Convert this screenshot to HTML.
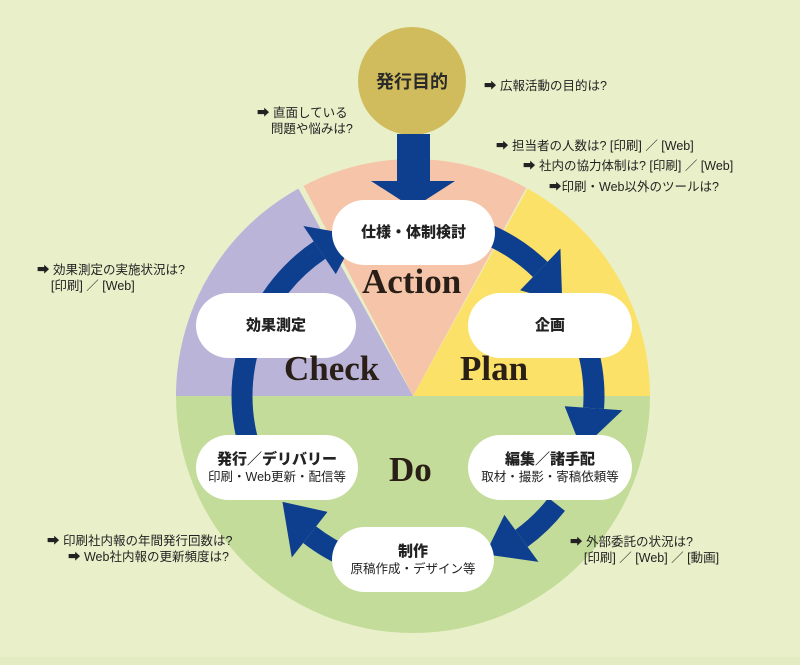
<!DOCTYPE html>
<html><head><meta charset="utf-8"><style>
html,body{margin:0;padding:0;}
body{width:800px;height:665px;background:#e9f0c9;position:relative;overflow:hidden;font-family:"Liberation Sans","Noto Sans CJK JP",sans-serif;color:#222;}
.t{position:absolute;font-size:12.5px;white-space:nowrap;line-height:16px;}
.pill{position:absolute;background:#fff;border-radius:33px;text-align:center;font-weight:bold;display:flex;flex-direction:column;justify-content:center;align-items:center;color:#222;}
.pill b{font-size:15px;line-height:19px;}
.pill span{font-size:12.5px;font-weight:normal;line-height:17px;}
.big{position:absolute;font-family:"Liberation Serif",serif;font-weight:bold;font-size:35px;color:#2a1f17;}
</style></head><body>
<svg width="800" height="665" style="position:absolute;left:0;top:0">
<rect x="0" y="657" width="800" height="8" fill="#e3ebc2"/>
<clipPath id="c"><circle cx="413" cy="396" r="237"/></clipPath>
<g clip-path="url(#c)">
<rect x="170" y="396" width="490" height="250" fill="#c3dc99"/>
<polygon points="413,396 150,-80 150,396" fill="#b9b4d8"/>
<polygon points="413,396 676,-80 676,396" fill="#fbe168"/>
<polygon points="413,396 290,160 300,130 530,130 536,170" fill="#f6c5a9"/>
</g>
<circle cx="412" cy="81" r="54" fill="#d0bc5c"/>
<text x="412" y="88" text-anchor="middle" font-size="18" font-weight="bold" fill="#2a2a2a" font-family="Liberation Sans,Noto Sans CJK JP,sans-serif">発行目的</text>
<polygon points="397,134 430,134 430,181 455,181 413,208 371,181 397,181" fill="#0d3f8e"/>
<g id="ring" fill="#0d3f8e" stroke="none"></g>
</svg>
<div class="t" style="left:484px;top:78px">➡ 広報活動の目的は?</div>
<div class="t" style="left:257px;top:105px">➡ 直面している<br>&nbsp;&nbsp;&nbsp;&nbsp;問題や悩みは?</div>
<div class="t" style="left:496px;top:138px">➡ 担当者の人数は? [印刷] ／ [Web]</div>
<div class="t" style="left:523px;top:158px">➡ 社内の協力体制は? [印刷] ／ [Web]</div>
<div class="t" style="left:549px;top:179px">➡印刷・Web以外のツールは?</div>
<div class="t" style="left:37px;top:262px">➡ 効果測定の実施状況は?<br>&nbsp;&nbsp;&nbsp;&nbsp;[印刷] ／ [Web]</div>
<div class="t" style="left:47px;top:533px">➡ 印刷社内報の年間発行回数は?</div>
<div class="t" style="left:68px;top:549px">➡ Web社内報の更新頻度は?</div>
<div class="t" style="left:570px;top:534px">➡ 外部委託の状況は?<br>&nbsp;&nbsp;&nbsp;&nbsp;[印刷] ／ [Web] ／ [動画]</div>
<div class="pill" style="left:332px;top:200px;width:163px;height:65px"><b>仕様・体制検討</b></div>
<div class="pill" style="left:468px;top:293px;width:164px;height:65px"><b>企画</b></div>
<div class="pill" style="left:196px;top:293px;width:160px;height:65px"><b>効果測定</b></div>
<div class="pill" style="left:196px;top:435px;width:162px;height:65px"><b>発行／デリバリー</b><span>印刷・Web更新・配信等</span></div>
<div class="pill" style="left:468px;top:435px;width:164px;height:65px"><b>編集／諸手配</b><span>取材・撮影・寄稿依頼等</span></div>
<div class="pill" style="left:332px;top:527px;width:162px;height:65px"><b>制作</b><span>原稿作成・デザイン等</span></div>
<div class="big" style="left:362px;top:262px">Action</div>
<div class="big" style="left:284px;top:349px">Check</div>
<div class="big" style="left:460px;top:349px">Plan</div>
<div class="big" style="left:389px;top:450px">Do</div>
<script>
(function(){
var cx=418,cy=396,r=176,w=21,hw=29,g=document.getElementById('ring'),ns='http://www.w3.org/2000/svg';
function P(a,rr){a=a*Math.PI/180;return [cx+rr*Math.cos(a),cy+rr*Math.sin(a)];}
function seg(a1,a2,tip){
 var o1=P(a1,r+w/2),o2=P(a2,r+w/2),i2=P(a2,r-w/2),i1=P(a1,r-w/2);
 var d='M'+o1+' A'+(r+w/2)+','+(r+w/2)+' 0 0 1 '+o2+' L'+i2+' A'+(r-w/2)+','+(r-w/2)+' 0 0 0 '+i1+'Z';
 var p=document.createElementNS(ns,'path');p.setAttribute('d',d);g.appendChild(p);
 if(tip!==null){var b1=P(a2,r+hw),b2=P(a2,r-hw),t=P(tip,r-4);
  var q=document.createElementNS(ns,'polygon');q.setAttribute('points',b1+' '+t+' '+b2);g.appendChild(q);}
}
seg(-82,-46,-33);
seg(-14,4,18);
seg(38,54,67);
seg(112,128,142);
seg(160,200,null);
seg(-158,-124,-111);
})();
</script>
</body></html>
